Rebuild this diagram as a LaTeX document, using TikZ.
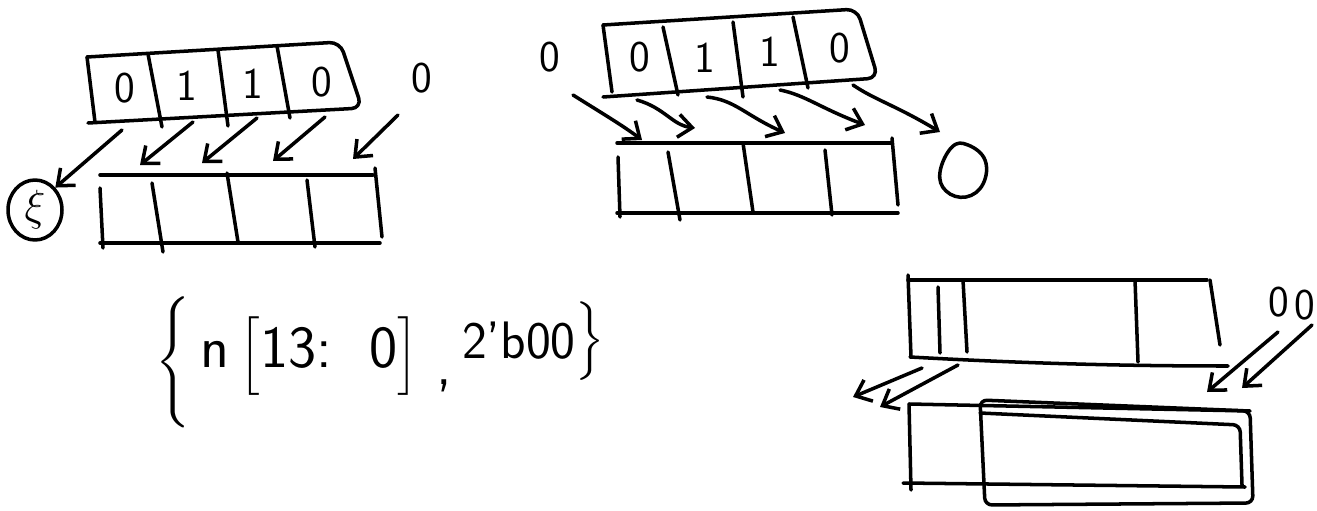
\documentclass[tikz,border=0pt]{standalone}
\usepackage{amsmath}
\usepackage{exscale}
\usepackage{tikz}
\usetikzlibrary{arrows.meta, positioning, calc, shapes.geometric}
\tikzset{
	ink/.style={line width=2pt, line cap=round, line join=round},
	shiftarrow/.style={ink, -{Straight Barb[length=2.8mm, width=4.6mm]}},
	bitlabel/.style={font=\fontsize{25}{30}\selectfont\sffamily, inner sep=0pt},
	sinkbox/.style={ink, draw, ellipse, minimum width=1.08cm, minimum height=1.2cm, inner sep=0pt, font=\fontsize{26}{30}\selectfont},
}

\begin{document}
\begin{tikzpicture}[x=0.02cm, y=-0.02cm]
	\useasboundingbox (0,0) rectangle (1317,510);

	% ---- left: shift left ----
	\draw[ink, rounded corners=6pt] (87,57) -- (340,42) -- (362,108) -- (88,123);
	\draw[ink] (87,57) -- (95,122);
	\foreach \xa/\ya/\xb/\yb in {148/54/162/127, 218/50/228/126, 277/46/290/118}
		\draw[ink] (\xa,\ya) -- (\xb,\yb);
	\foreach \val/\idx/\x/\y in {0/1/125/88, 1/2/187/86, 1/3/253/84, 0/4/322/82}
		\node[bitlabel] (la\idx) at (\x,\y) {\val};
	\node[bitlabel] (lin) at (422,78) {0};
	\node[sinkbox] (lsink) at (35,210) {$\xi$};
	% lower register
	\draw[ink] (100,175) -- (373,175);
	\draw[ink] (100,243) -- (380,243);
	\foreach \xa/\ya/\xb/\yb in {100/188/103/248, 152/183/163/252, 227/173/238/242, 307/180/315/247, 375/168/382/237}
		\draw[ink] (\xa,\ya) -- (\xb,\yb);
	% shifts
	\coordinate (lp1) at (122,130);
	\draw[shiftarrow] (lp1) -- (lsink.north east);
	\foreach \i/\sx/\sy/\ex/\ey in {2/193/122/140/165, 3/257/118/202/163, 4/325/117/273/161, 5/398/115/353/159} {
		\coordinate (lp\i) at (\sx,\sy);
		\coordinate (lq\i) at (\ex,\ey);
		\draw[shiftarrow] (lp\i) -- (lq\i);
	}

	% ---- middle: shift right ----
	\draw[ink, rounded corners=6pt] (603,25) -- (857,9) -- (878,78) -- (603,97);
	\draw[ink] (603,25) -- (612,92);
	\foreach \xa/\ya/\xb/\yb in {663/27/678/95, 733/22/743/97, 793/17/808/88}
		\draw[ink] (\xa,\ya) -- (\xb,\yb);
	\foreach \val/\idx/\x/\y in {0/1/640/57, 1/2/705/58, 1/3/770/52, 0/4/840/48}
		\node[bitlabel] (ma\idx) at (\x,\y) {\val};
	\node[bitlabel] (min) at (550,57) {0};
	\draw[ink] plot[smooth cycle, tension=0.7] coordinates {(952,147) (968,145) (985,160) (983,184) (966,197) (946,191) (940,172)};
	\coordinate (msink) at (940,133);
	% lower register
	\draw[ink] (617,143) -- (892,143);
	\draw[ink] (617,213) -- (898,213);
	\foreach \xa/\ya/\xb/\yb in {618/157/620/217, 668/152/680/220, 743/143/753/212, 825/150/832/215, 892/138/898/205}
		\draw[ink] (\xa,\ya) -- (\xb,\yb);
	% shifts
	\foreach \i/\sx/\sy/\ca/\cb/\cc/\cd/\ex/\ey in {
		1/573/95/600/112/622/125/642/140,
		2/637/100/665/108/672/125/695/128,
		3/707/97/735/100/745/115/785/133,
		4/780/90/805/95/820/108/865/125,
		5/853/85/875/100/895/105/940/132} {
		\coordinate (mp\i) at (\sx,\sy);
		\coordinate (mq\i) at (\ex,\ey);
		\draw[shiftarrow] (mp\i) .. controls (\ca,\cb) and (\cc,\cd) .. (mq\i);
	}

	% ---- concatenation ----
	\node[font=\fontsize{34}{40}\selectfont\sffamily, inner sep=0pt, anchor=base west] (concat) at (155,367)
		{\raisebox{-0.1em}{$\Bigg\{$}\,n\,$\Big[$13:\ \ 0$\Big]$\ \raisebox{-0.3em}{,}\,\raisebox{0.15em}{\fontsize{30}{34}\selectfont 2'b00}\raisebox{0.25em}{$\Big\}$}};

	% ---- right: wide register ----
	\draw[ink] (908,280) -- (1207,280);
	\draw[ink] (910,357) .. controls (1000,362) and (1100,366) .. (1228,366);
	\foreach \xa/\ya/\xb/\yb in {908/275/911/357, 938/287/940/353, 963/280/967/352, 1135/280/1138/362, 1210/280/1220/345}
		\draw[ink] (\xa,\ya) -- (\xb,\yb);
	\node[bitlabel] (rin1) at (1279,302) {0};
	\node[bitlabel] (rin2) at (1305,305) {0};
	% lower registers
	\draw[ink] (909,404) -- (1250,411);
	\draw[ink] (909,404) -- (911,490);
	\draw[ink] (903,483) -- (1245,487);
	\draw[ink, rounded corners=4pt] (980,400) -- (1250,411) -- (1253,503) -- (985,505) -- cycle;
	\draw[ink, rounded corners=4pt] (980,413) -- (1240,425) -- (1242,485);
	% shifts
	\foreach \i/\sx/\sy/\ex/\ey in {1/922/368/853/397, 2/958/365/880/407, 3/1278/332/1207/392, 4/1312/325/1242/388} {
		\coordinate (rp\i) at (\sx,\sy);
		\coordinate (rq\i) at (\ex,\ey);
		\draw[shiftarrow] (rp\i) -- (rq\i);
	}
\end{tikzpicture}
\end{document}
